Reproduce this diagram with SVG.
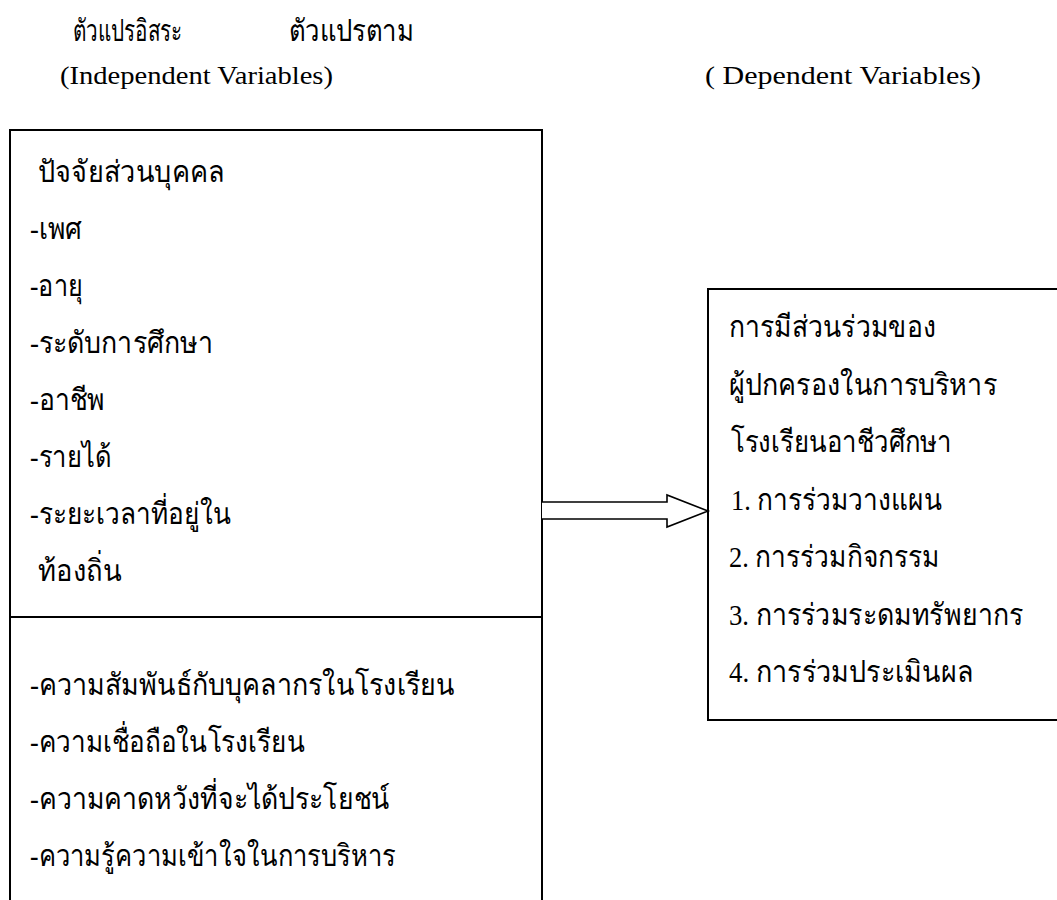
<svg xmlns="http://www.w3.org/2000/svg" width="1057" height="900" viewBox="0 0 1057 900">
<style>
.th{font-family:"Liberation Serif","Noto Sans",serif;font-size:30px;fill:#000}
.en{font-family:"Liberation Serif",serif;font-size:25px;fill:#000}
.box{fill:none;stroke:#000;stroke-width:2}
.arrow{fill:#fff;stroke:#000;stroke-width:1.6;stroke-linejoin:miter}
</style>
<rect width="1057" height="900" fill="#fff"/>
<g id="headers">
<text class="th" x="73" y="41" textLength="109" lengthAdjust="spacingAndGlyphs">ตัวแปรอิสระ</text>
<text class="th" x="289" y="41" textLength="125" lengthAdjust="spacingAndGlyphs">ตัวแปรตาม</text>
<text class="en" x="60" y="84" textLength="273" lengthAdjust="spacingAndGlyphs">(Independent Variables)</text>
<text class="en" x="705" y="84" textLength="276" lengthAdjust="spacingAndGlyphs">(   Dependent Variables)</text>
</g>
<g id="independent">
<path class="box" d="M10,900 V130 H542 V900"/>
<line x1="10" y1="617" x2="542" y2="617" stroke="#000" stroke-width="2"/>
<text class="th" x="38" y="182" textLength="186" lengthAdjust="spacingAndGlyphs">ปัจจัยส่วนบุคคล</text>
<text class="th" x="30" y="239" textLength="52" lengthAdjust="spacingAndGlyphs">-เพศ</text>
<text class="th" x="30" y="296" textLength="53" lengthAdjust="spacingAndGlyphs">-อายุ</text>
<text class="th" x="30" y="353" textLength="183" lengthAdjust="spacingAndGlyphs">-ระดับการศึกษา</text>
<text class="th" x="30" y="410" textLength="75" lengthAdjust="spacingAndGlyphs">-อาชีพ</text>
<text class="th" x="30" y="467" textLength="81" lengthAdjust="spacingAndGlyphs">-รายได้</text>
<text class="th" x="30" y="524" textLength="201" lengthAdjust="spacingAndGlyphs">-ระยะเวลาที่อยู่ใน</text>
<text class="th" x="38" y="581" textLength="84" lengthAdjust="spacingAndGlyphs">ท้องถิ่น</text>
<text class="th" x="30" y="695" textLength="425" lengthAdjust="spacingAndGlyphs">-ความสัมพันธ์กับบุคลากรในโรงเรียน</text>
<text class="th" x="30" y="752" textLength="275" lengthAdjust="spacingAndGlyphs">-ความเชื่อถือในโรงเรียน</text>
<text class="th" x="30" y="809" textLength="360" lengthAdjust="spacingAndGlyphs">-ความคาดหวังที่จะได้ประโยชน์</text>
<text class="th" x="30" y="866" textLength="366" lengthAdjust="spacingAndGlyphs">-ความรู้ความเข้าใจในการบริหาร</text>
</g>
<g id="dependent">
<path class="box" d="M1057,289 H708 V720 H1057"/>
<text class="th" x="729" y="337" textLength="207" lengthAdjust="spacingAndGlyphs">การมีส่วนร่วมของ</text>
<text class="th" x="729" y="395" textLength="268" lengthAdjust="spacingAndGlyphs">ผู้ปกครองในการบริหาร</text>
<text class="th" x="731" y="452" textLength="221" lengthAdjust="spacingAndGlyphs">โรงเรียนอาชีวศึกษา</text>
<text class="th" x="731" y="510" textLength="211" lengthAdjust="spacingAndGlyphs">1. การร่วมวางแผน</text>
<text class="th" x="729" y="567" textLength="211" lengthAdjust="spacingAndGlyphs">2. การร่วมกิจกรรม</text>
<text class="th" x="729" y="625" textLength="294" lengthAdjust="spacingAndGlyphs">3. การร่วมระดมทรัพยากร</text>
<text class="th" x="729" y="682" textLength="244" lengthAdjust="spacingAndGlyphs">4. การร่วมประเมินผล</text>
</g>
<g id="connectors">
<polyline class="arrow" points="542,502 667,502 667,495 708,511 667,527 667,519 542,519"/>
</g>
</svg>
